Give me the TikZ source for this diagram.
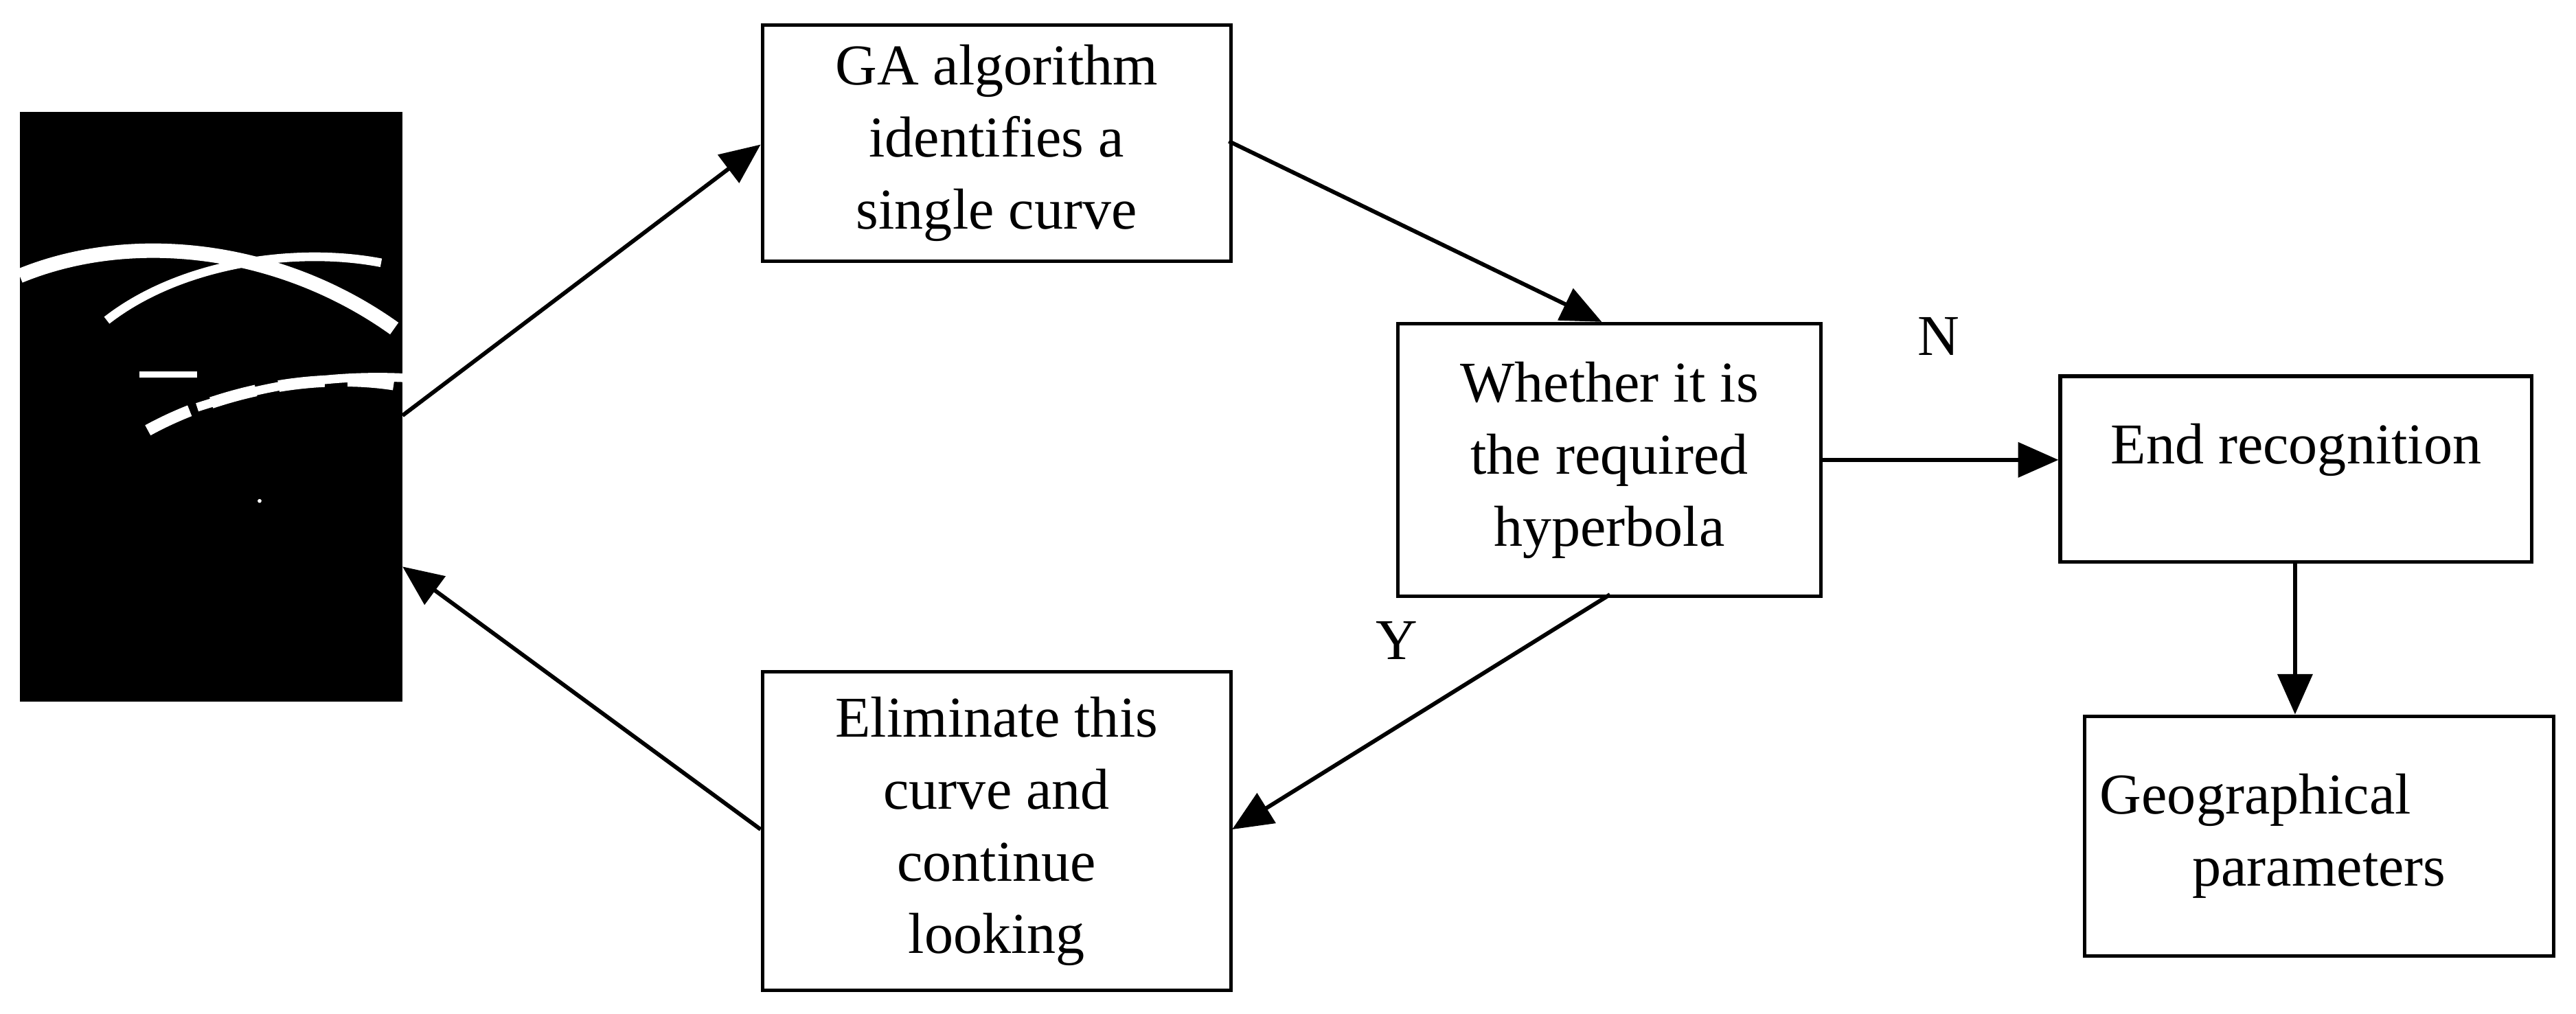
\documentclass[tikz,border=0pt]{standalone}
\usepackage{fontspec}
\setmainfont{Liberation Serif}
\usetikzlibrary{positioning,arrows.meta}
\begin{document}
\begin{tikzpicture}[x=0.01cm,y=-0.01cm,
  box/.style={draw,line width=0.6pt,anchor=north west,inner sep=0pt,align=center,font=\fontsize{10}{12.5}\selectfont},
  flow/.style={line width=0.7pt,-{Triangle[length=7pt,width=6pt]}}]
  \useasboundingbox (0,0) rectangle (1568,617);
  % radar image
  \fill[black] (12,68) rectangle (245,427);
  \draw[white,line width=2.5pt] (12,168) .. controls (80,140) and (170,150) .. (240,200);
  \draw[white,line width=1.5pt] (65,195) .. controls (110,160) and (180,150) .. (232,160);
  \draw[white,line width=2pt,dash pattern=on 8pt off 4pt] (90,262) .. controls (130,240) and (190,225) .. (245,235);
  \draw[white,line width=1.5pt] (120,248) .. controls (160,235) and (200,228) .. (245,230);
  \draw[white,line width=1pt] (85,228) -- (120,228);
  \fill[white] (158,305) circle (1.2);
  % boxes
  \node[box,minimum width=2.85cm,minimum height=1.44cm] (ga) at (463,14) {GA algorithm\\identifies a\\single curve};
  \node[box,minimum width=2.57cm,minimum height=1.66cm] (wh) at (850,196) {Whether it is\\the required\\hyperbola};
  \node[box,minimum width=2.87cm,minimum height=1.13cm] (end) at (1253,228) {};
  \node[font=\fontsize{10}{12}\selectfont,below=5pt of end.north] {End recognition};
  \node[box,minimum width=2.85cm,minimum height=1.46cm] (geo) at (1268,435) {\hspace*{-22pt}Geographical\\parameters};
  \node[box,minimum width=2.85cm,minimum height=1.94cm] (el) at (463,408) {Eliminate this\\curve and\\continue\\looking};
  % labels
  \node[font=\fontsize{10}{12}\selectfont] (lN) at (1180,205) {N};
  \node[font=\fontsize{10}{12}\selectfont] (lY) at (850,390) {Y};
  % connectors
  \draw[flow] (245,253) -- (ga.west |- 0,88);
  \draw[flow] (748,86) -- (975,196);
  \draw[flow] (wh.east |- 0,280) -- (end.west |- 0,280);
  \draw[flow] (end.south -| 1397,0) -- (geo.north -| 1397,0);
  \draw[flow] (980,362) -- (750,505);
  \draw[flow] (el.west |- 0,505) -- (245,345);
\end{tikzpicture}
\end{document}
